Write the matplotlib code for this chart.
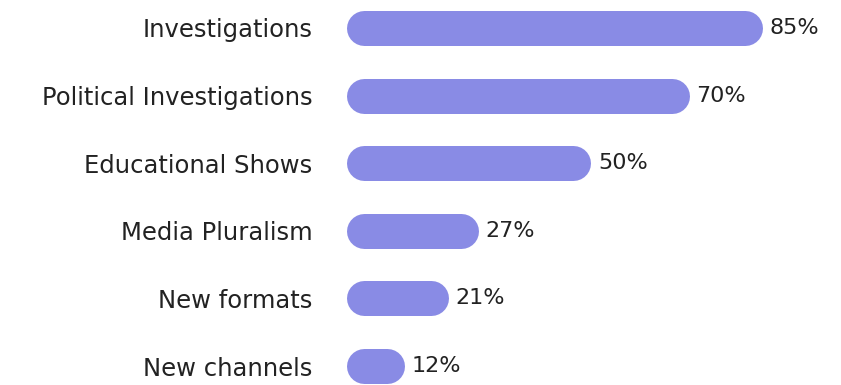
import matplotlib
matplotlib.use('Agg')
import matplotlib.pyplot as plt

categories = ['Investigations', 'Political Investigations', 'Educational Shows',
              'Media Pluralism', 'New formats', 'New channels']
values = [85, 70, 50, 27, 21, 12]
value_labels = ['85%', '70%', '50%', '27%', '21%', '12%']

bar_color = '#898be5'
text_color = '#222222'
plt.rcParams['font.family'] = ['DejaVu Sans']

fig = plt.figure(figsize=(8.41, 3.85), dpi=100)
ax = fig.add_axes([346 / 841, 0, 490 / 841, 1])

ypos = list(range(len(categories)))
ax.set_xlim(0, 100)
ax.set_ylim(5.28, -0.414)

# pill shaped bars: thick lines with round caps, trimmed by the cap radius
bar_px = 35
fig.canvas.draw()
px_x = ax.transData.transform((1, 0))[0] - ax.transData.transform((0, 0))[0]
r = (bar_px / 2) / px_x
lw = bar_px * 72 / fig.dpi
for y, v in zip(ypos, values):
    ax.plot([r, v - r], [y, y], color=bar_color, lw=lw, solid_capstyle='round')

for y, v, lab in zip(ypos, values, value_labels):
    ax.text(v + 1.4, y, lab, va='center', ha='left', fontsize=16, color=text_color)

ax.set_yticks(ypos)
ax.set_yticklabels(categories, fontsize=17.5, color=text_color)
ax.tick_params(axis='y', length=0, pad=24)
ax.set_xticks([])
for s in ax.spines.values():
    s.set_visible(False)

fig.savefig('out.png', dpi=100)
